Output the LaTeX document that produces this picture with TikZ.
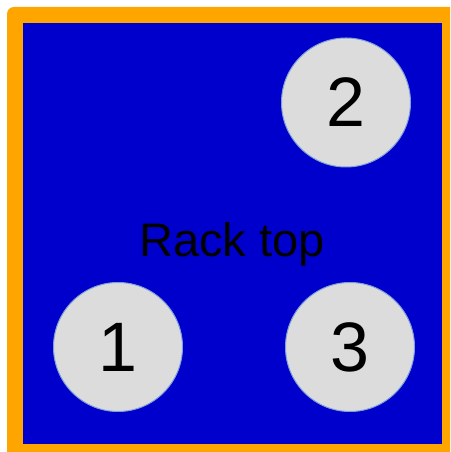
\documentclass[tikz,border=0pt]{standalone}
\usepackage{fontspec}
\setmainfont{Liberation Sans}
\definecolor{rackblue}{HTML}{0000CC}
\definecolor{rackorange}{HTML}{FFA500}
\definecolor{holefill}{HTML}{DCDCDC}
\definecolor{holeline}{HTML}{7F9FD8}
\begin{document}
\begin{tikzpicture}[x=1pt,y=1pt,
  hole/.style={circle,fill=holefill,draw=holeline,line width=1pt,minimum size=129pt,inner sep=0pt,font=\fontsize{70}{70}\selectfont},
  racklabel/.style={anchor=base,inner sep=0pt,font=\fontsize{47}{47}\selectfont}]
\useasboundingbox (0,0) rectangle (450,452);
\begin{scope}
\clip (0,0) rectangle (450,452);
\fill[rackorange,rounded corners=7pt] (7,-20) rectangle (470,445);
\fill[rackblue] (23,8) rectangle (442,429);
\end{scope}
\node[racklabel] (label) at (232,195) {Rack top};
\node[hole] (h1) at (118,105) {1};
\node[hole] (h2) at (346,349.5) {2};
\node[hole] (h3) at (350,105) {3};
\end{tikzpicture}
\end{document}
